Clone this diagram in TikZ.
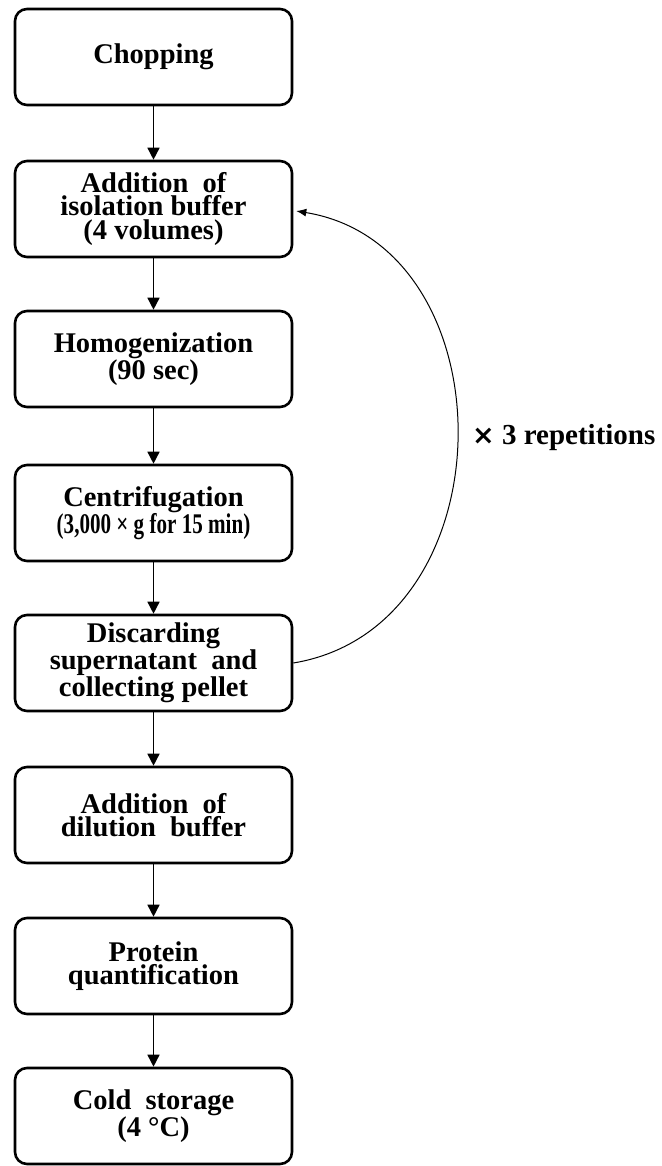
\documentclass[tikz,border=0pt]{standalone}
\usepackage{fontspec}
\setmainfont{Liberation Serif}
\newfontfamily\crossfont{DejaVu Sans}
\usetikzlibrary{arrows.meta}
\tikzset{
  stepbox/.style={draw, line width=2.6pt, rounded corners=12pt, minimum width=277pt, minimum height=96pt, align=center, inner sep=2pt, font=\bfseries\fontsize{28.5}{23.5}\selectfont},
  flowarrow/.style={line width=1.5pt, -{Triangle[length=12pt,width=12pt]}},
  looparrow/.style={line width=1pt, -{Latex[length=10pt,width=8pt]}},
  looplabel/.style={anchor=west, inner sep=0pt, font=\bfseries\fontsize{29}{29}\selectfont}
}
\begin{document}
\begin{tikzpicture}[x=1pt,y=-1pt]
\useasboundingbox (0,0) rectangle (661,1166);
\node[stepbox] (b1) at (153.5,57) {Chopping};
\node[stepbox] (b2) at (153.5,209) {Addition\ \ of\\isolation\ buffer\\(4 volumes)};
\node[stepbox] (b3) at (153.5,359) {Homogenization\\(90 sec)};
\node[stepbox] (b4) at (153.5,513) {Centrifugation\\\scalebox{0.74}[1]{(3,000 × g for 15 min)}};
\node[stepbox] (b5) at (153.5,663) {Discarding\\supernatant\ \ and\\collecting pellet};
\node[stepbox] (b6) at (153.5,815) {Addition\ \ of\\dilution\ \ buffer};
\node[stepbox] (b7) at (153.5,966) {Protein\\quantification};
\node[stepbox] (b8) at (153.5,1116) {Cold\ \ storage\\(4 °C)};
\draw[flowarrow] (b1) -- (b2);
\draw[flowarrow] (b2) -- (b3);
\draw[flowarrow] (b3) -- (b4);
\draw[flowarrow] (b4) -- (b5);
\draw[flowarrow] (b5) -- (b6);
\draw[flowarrow] (b6) -- (b7);
\draw[flowarrow] (b7) -- (b8);
\draw[looparrow] (b5.east) .. controls (511,627) and (511,246) .. ([xshift=3pt,yshift=-2pt]b2.east);
\node[looplabel] (rep) at (472,438) {{\crossfont\fontsize{27}{27}\selectfont ×} 3 repetitions};
\end{tikzpicture}
\end{document}
